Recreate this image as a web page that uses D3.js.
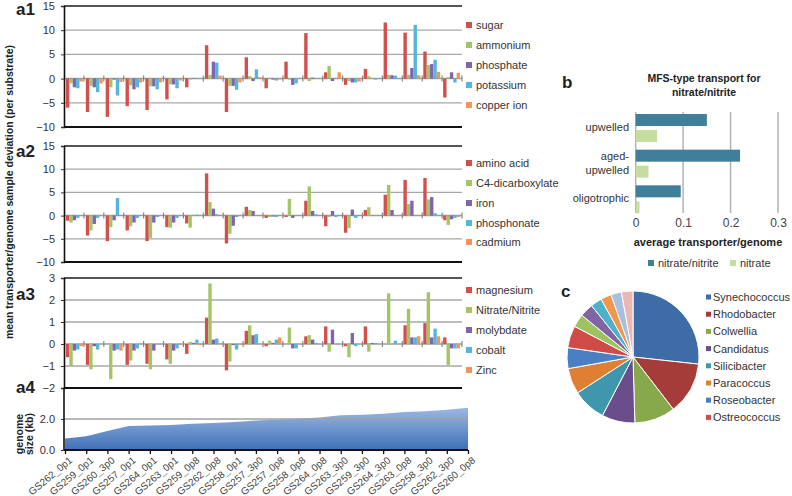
<!DOCTYPE html>
<html><head><meta charset="utf-8">
<script src="https://cdn.jsdelivr.net/npm/d3@7"></script>
<style>body{margin:0;background:#fff} svg{display:block} text{font-family:"Liberation Sans",Arial,Helvetica,sans-serif}</style>
</head><body><svg id="chart" width="792" height="496"></svg>
<script>
// ---------- DATA ----------
const samples = ["GS262_0p1","GS259_0p1","GS260_3p0","GS257_0p1","GS264_0p1","GS263_0p1","GS259_0p8","GS262_0p8","GS258_0p1","GS257_3p0","GS257_0p8","GS258_0p8","GS264_0p8","GS263_3p0","GS259_3p0","GS264_3p0","GS263_0p8","GS258_3p0","GS262_3p0","GS260_0p8"];

const a1Names = ["sugar","ammonium","phosphate","potassium","copper ion"];
const a1Sugar     = [-6.0,-6.9,-7.9,-5.7,-6.5,-4.3,-1.8,6.9,-6.9,4.4,-2.0,3.5,9.4,1.3,-1.3,2.0,11.6,9.5,5.6,-3.9];
const a1Ammonium  = [-1.0,-1.5,-1.8,-1.4,-1.6,-1.2,-0.2,0.8,-1.5,0.5,0.0,-0.2,-0.5,2.6,-0.5,0.5,0.8,0.8,2.8,0.3];
const a1Phosphate = [-1.8,-1.8,-0.2,-2.2,-1.6,-1.2,0.1,3.5,-1.5,-0.5,-0.2,-1.3,0.2,-0.5,-0.8,0.0,0.7,2.2,3.0,1.3];
const a1Potassium = [-2.0,-2.8,-3.5,-1.8,-2.2,-2.0,-0.1,3.3,-2.3,1.9,-0.4,-1.0,0.1,0.0,-0.8,-0.2,0.6,11.1,3.9,-0.8];
const a1Copper    = [-0.6,-1.0,-0.7,-0.8,-0.8,-0.4,0.0,0.6,-0.8,0.3,-0.2,0.0,0.0,1.3,-0.6,0.0,0.0,0.7,1.4,1.2];

const a2Names = ["amino acid","C4-dicarboxylate","iron","phosphonate","cadmium"];
const a2Amino       = [-1.1,-4.3,-5.5,-3.2,-5.5,-2.5,-1.7,9.1,-6.0,1.9,-0.5,-0.3,3.2,-2.3,-3.7,1.2,4.5,7.7,8.1,-1.0];
const a2C4          = [-1.5,-3.2,-2.5,-2.3,-4.8,-2.6,-2.6,2.9,-3.9,1.2,-0.3,3.6,6.3,-0.3,-2.7,1.8,6.6,2.5,3.5,-2.0];
const a2Iron        = [-1.0,-1.8,-1.0,-1.5,-1.5,-1.5,0.0,1.5,-2.2,1.0,-0.2,-0.5,1.0,1.0,1.3,0.0,1.2,3.2,4.0,-0.8];
const a2Phosphonate = [-0.5,-0.5,3.8,-0.5,-0.3,-0.5,0.2,0.3,-0.3,0.0,-0.3,0.0,0.3,-0.3,-0.5,0.0,0.0,0.0,0.5,-0.5];
const a2Cadmium     = [0,0,0,0,0,0,0,0,0,0,0,0,0,0,0,0,0,0,0,-0.3];

const a3Names = ["magnesium","Nitrate/Nitrite","molybdate","cobalt","Zinc"];
const a3Magnesium = [-0.6,-0.95,0.0,-0.95,-0.9,-0.7,-0.45,1.2,-1.2,0.6,-0.1,0.0,0.35,0.8,-0.1,0.8,0.0,0.85,0.95,0.3];
const a3Nitrate   = [-1.0,-1.15,-1.6,-0.75,-1.15,-0.9,0.1,2.75,-0.8,0.85,0.15,0.75,0.4,-0.35,-0.6,-0.35,2.3,1.6,2.35,-0.95];
const a3Molybdate = [-0.3,-0.1,-0.3,-0.3,-0.3,-0.3,0.05,0.2,-0.05,0.4,0.05,-0.2,0.2,0.65,0.5,0.05,0.0,0.3,0.3,-0.2];
const a3Cobalt    = [-0.25,-0.25,-0.25,-0.2,0.0,-0.2,0.2,0.25,-0.25,0.45,0.2,-0.2,0.05,0.0,-0.1,0.05,0.15,0.3,0.7,-0.2];
const a3Zinc      = [-0.1,0.0,-0.3,0.05,0.0,-0.05,-0.05,0.05,-0.05,0.0,0.3,0.0,0.0,0.0,0.0,0.0,0.0,0.35,0.35,-0.2];

const a4Genome = [0.75,0.88,1.22,1.55,1.58,1.62,1.7,1.74,1.8,1.9,1.96,2.02,2.1,2.25,2.28,2.34,2.45,2.5,2.6,2.72];

const bCategories = ["upwelled","aged-upwelled","oligotrophic"];
const bSeries = ["nitrate/nitrite","nitrate"];
const bNitriteValues = [0.15,0.22,0.095];
const bNitrateValues = [0.045,0.027,0.008];
const bTicks = [0,0.1,0.2,0.3];

const cTaxa = ["Synechococcus","Rhodobacter","Colwellia","Candidatus","Silicibacter","Paracoccus","Roseobacter","Ostreococcus","other 9","other 10","other 11","other 12","other 13","other 14"];
const cShares = [26.7,12.8,10.0,8.1,8.2,6.3,5.1,5.4,3.2,3.3,2.8,2.6,2.6,2.8];
const cLegendCount = 8;

// ---------- STYLE ----------
const seriesColors = ["#d24f4c","#a3c565","#7f65ad","#55b6dc","#f2955a"];
const pieColors = ["#3d6ca6","#a63c39","#88a94b","#6a4e8c","#3f97ae","#de7f33","#4a7fc4","#d04a47","#9ec25e","#8065a5","#4fb0c9","#f2964e","#a9bfe0","#e8b7b6"];

const svg = d3.select("#chart");
const X0 = 64, X1 = 462;
const xBand = d3.scaleBand().domain(samples).range([X0, X1]).paddingInner(0.15).paddingOuter(0.1);

function barPanel(cfg) {
  const g = svg.append("g");
  const y = d3.scaleLinear().domain(cfg.domain).range(cfg.range);
  const xs = d3.scaleBand().domain(cfg.names).range([0, xBand.bandwidth()]);
  const [mn, mx] = cfg.domain;
  cfg.ticks.forEach(t => {
    let col = "#a8a8a8", w = 1.3;
    if (t === mx) { col = "#555"; w = 2; }
    if (t === mn) { col = "#111"; w = 2; }
    if (t === 0) { col = "#9a9a9a"; w = 1.5; }
    g.append("line").attr("x1", X0).attr("x2", X1).attr("y1", y(t)).attr("y2", y(t))
      .attr("stroke", col).attr("stroke-width", w);
  });
  cfg.values.forEach((arr, i) => {
    g.selectAll(null).data(arr).join("rect")
      .attr("x", (d, j) => xBand(samples[j]) + xs(cfg.names[i]))
      .attr("width", xs.bandwidth())
      .attr("y", d => Math.min(y(d), y(0)))
      .attr("height", d => Math.abs(y(d) - y(0)))
      .attr("fill", seriesColors[i]);
  });
  const step = (X1 - X0) / samples.length;
  d3.range(1, samples.length + 1).forEach(k => {
    g.append("line").attr("x1", X0 + k * step).attr("x2", X0 + k * step)
      .attr("y1", y(0) - 3).attr("y2", y(0) + 3).attr("stroke", "#888").attr("stroke-width", 1.2);
  });
  const ax = g.append("g").attr("transform", `translate(${X0},0)`)
    .call(d3.axisLeft(y).tickValues(cfg.ticks).tickSize(3).tickPadding(6).tickFormat(d3.format("d")));
  ax.select(".domain").attr("stroke", "#111").attr("stroke-width", 1.6);
  ax.selectAll(".tick line").attr("stroke", "#333");
  ax.selectAll(".tick text").attr("font-size", 11).attr("fill", "#333")
    .attr("font-family", '"Liberation Sans",Arial,sans-serif');
  cfg.names.forEach((n, i) => {
    g.append("rect").attr("x", 466).attr("y", cfg.legendY[i] - 3).attr("width", 6).attr("height", 6).attr("fill", seriesColors[i]);
    g.append("text").attr("x", 476).attr("y", cfg.legendY[i] + 4).attr("font-size", 11).attr("fill", "#333").text(n);
  });
  g.append("text").attr("x", 16).attr("y", cfg.labelY).attr("font-size", 17).attr("font-weight", "bold").attr("fill", "#222").text(cfg.label);
  return y;
}

barPanel({names: a1Names, values: [a1Sugar, a1Ammonium, a1Phosphate, a1Potassium, a1Copper],
  domain: [-10, 15], range: [127, 6], ticks: [15, 10, 5, 0, -5, -10], legendY: [25, 45, 65, 85, 105], label: "a1", labelY: 15});
barPanel({names: a2Names, values: [a2Amino, a2C4, a2Iron, a2Phosphonate, a2Cadmium],
  domain: [-10, 15], range: [262, 146], ticks: [15, 10, 5, 0, -5, -10], legendY: [163, 183, 203, 223, 242], label: "a2", labelY: 157});
barPanel({names: a3Names, values: [a3Magnesium, a3Nitrate, a3Molybdate, a3Cobalt, a3Zinc],
  domain: [-2, 3], range: [388, 278], ticks: [3, 2, 1, 0, -1, -2], legendY: [290, 310, 330, 350, 370], label: "a3", labelY: 300});

// ---------- a4 area ----------
{
  const g = svg.append("g");
  const xp = d3.scalePoint().domain(samples).range([65, 468]);
  const y = d3.scaleLinear().domain([0, 4]).range([450, 388]);
  const defs = svg.append("defs");
  const grad = defs.append("linearGradient").attr("id", "areaGrad").attr("x1", 0).attr("y1", 0).attr("x2", 0).attr("y2", 1);
  grad.append("stop").attr("offset", "0%").attr("stop-color", "#9cb8e2");
  grad.append("stop").attr("offset", "100%").attr("stop-color", "#3f70b8");
  const area = d3.area().x((d, i) => xp(samples[i])).y0(y(0)).y1(d => y(d));
  g.append("path").datum(a4Genome).attr("d", area).attr("fill", "url(#areaGrad)");
  g.append("line").attr("x1", X0).attr("x2", 468).attr("y1", y(2)).attr("y2", y(2)).attr("stroke", "#a0a0a0").attr("stroke-width", 1.5);
  const ay = g.append("g").attr("transform", `translate(${X0},0)`)
    .call(d3.axisLeft(y).tickValues([0, 2]).tickSize(3).tickPadding(6));
  ay.select(".domain").remove();
  g.append("line").attr("x1", X0).attr("x2", X0).attr("y1", 388).attr("y2", 450).attr("stroke", "#111").attr("stroke-width", 1.6);
  ay.selectAll(".tick line").attr("stroke", "#333");
  ay.selectAll(".tick text").attr("font-size", 11).attr("fill", "#333").attr("font-family", '"Liberation Sans",Arial,sans-serif');
  const ax = g.append("g").attr("transform", "translate(0,450)")
    .call(d3.axisBottom(xp).tickSize(4).tickSizeOuter(0));
  ax.select(".domain").attr("stroke", "#111").attr("stroke-width", 2).attr("d", `M${X0},0H468`);
  ax.selectAll(".tick line").attr("stroke", "#111").attr("stroke-width", 1.3);
  ax.selectAll(".tick text").attr("font-size", 10).attr("fill", "#444")
    .attr("font-family", '"Liberation Sans",Arial,sans-serif')
    .attr("text-anchor", "end").attr("transform", "translate(3,6) rotate(-40)").attr("dy", "0.7em").attr("y", 0).attr("x", 0);
  g.append("text").attr("x", 16).attr("y", 393).attr("font-size", 17).attr("font-weight", "bold").attr("fill", "#222").text("a4");
  g.append("text").attr("transform", "translate(23,434) rotate(-90)").attr("text-anchor", "middle").attr("font-size", 10.5).attr("font-weight", "bold").attr("fill", "#222").text("genome");
  g.append("text").attr("transform", "translate(33,434) rotate(-90)").attr("text-anchor", "middle").attr("font-size", 10.5).attr("font-weight", "bold").attr("fill", "#222").text("size (kb)");
}

svg.append("text").attr("transform", "translate(13,192) rotate(-90)").attr("text-anchor", "middle")
  .attr("font-size", 10.5).attr("font-weight", "bold").attr("fill", "#222")
  .text("mean transporter/genome sample deviation (per substrate)");

// ---------- panel b ----------
{
  const g = svg.append("g");
  const xb = d3.scaleLinear().domain([0, 0.3]).range([635.7, 778]);
  const yb = d3.scaleBand().domain(bCategories).range([113, 220]);
  const ys = d3.scaleBand().domain(bSeries).range([1, 29]).paddingInner(0.25);
  const bColors = ["#3f7f99", "#c5dea0"];
  bTicks.forEach(t => {
    g.append("line").attr("x1", xb(t)).attr("x2", xb(t)).attr("y1", 112).attr("y2", 213)
      .attr("stroke", "#b3b3b3").attr("stroke-width", 1.5);
  });
  [bNitriteValues, bNitrateValues].forEach((arr, i) => {
    g.selectAll(null).data(arr).join("rect")
      .attr("x", xb(0)).attr("y", (d, j) => yb(bCategories[j]) + ys(bSeries[i]))
      .attr("width", d => xb(d) - xb(0)).attr("height", ys.bandwidth()).attr("fill", bColors[i]);
  });
  const ax = g.append("g").attr("transform", "translate(0,212)")
    .call(d3.axisBottom(xb).tickValues(bTicks).tickSize(0).tickPadding(6).tickFormat(d => d === 0 ? "0" : d3.format(".1f")(d)));
  ax.select(".domain").remove();
  ax.selectAll(".tick text").attr("font-size", 12).attr("fill", "#444").attr("font-family", '"Liberation Sans",Arial,sans-serif');
  const lab = (t, y) => g.append("text").attr("x", 629).attr("y", y).attr("text-anchor", "end").attr("font-size", 11).attr("fill", "#333").text(t);
  lab("upwelled", 131);
  lab("aged-", 160);
  lab("upwelled", 174);
  lab("oligotrophic", 202);
  g.append("text").attr("x", 562).attr("y", 88).attr("font-size", 17).attr("font-weight", "bold").attr("fill", "#222").text("b");
  g.append("text").attr("x", 704).attr("y", 82).attr("text-anchor", "middle").attr("font-size", 10.5).attr("font-weight", "bold").attr("fill", "#222").text("MFS-type transport for");
  g.append("text").attr("x", 704).attr("y", 96).attr("text-anchor", "middle").attr("font-size", 10.5).attr("font-weight", "bold").attr("fill", "#222").text("nitrate/nitrite");
  g.append("text").attr("x", 708).attr("y", 246).attr("text-anchor", "middle").attr("font-size", 11).attr("font-weight", "bold").attr("fill", "#222").text("average transporter/genome");
  const legX = [648, 730];
  bSeries.forEach((s, i) => {
    g.append("rect").attr("x", legX[i]).attr("y", 260).attr("width", 6).attr("height", 6).attr("fill", bColors[i]);
    g.append("text").attr("x", legX[i] + 10).attr("y", 267).attr("font-size", 11).attr("fill", "#333").text(s);
  });
}

// ---------- panel c ----------
{
  const g = svg.append("g");
  const pie = d3.pie().sort(null).value(d => d);
  const arc = d3.arc().innerRadius(0).outerRadius(66);
  const pg = g.append("g").attr("transform", "translate(633,357)");
  pg.selectAll("path").data(pie(cShares)).join("path").attr("d", arc)
    .attr("fill", (d, i) => pieColors[i]).attr("stroke", "#fff").attr("stroke-width", 1);
  g.append("text").attr("x", 561).attr("y", 297).attr("font-size", 17).attr("font-weight", "bold").attr("fill", "#222").text("c");
  cTaxa.slice(0, cLegendCount).forEach((t, i) => {
    const yy = 297 + i * 17.2;
    g.append("rect").attr("x", 706).attr("y", yy - 2.5).attr("width", 5).attr("height", 5).attr("fill", pieColors[i]);
    g.append("text").attr("x", 713).attr("y", yy + 4).attr("font-size", 11).attr("fill", "#333").text(t);
  });
}
</script></body></html>
